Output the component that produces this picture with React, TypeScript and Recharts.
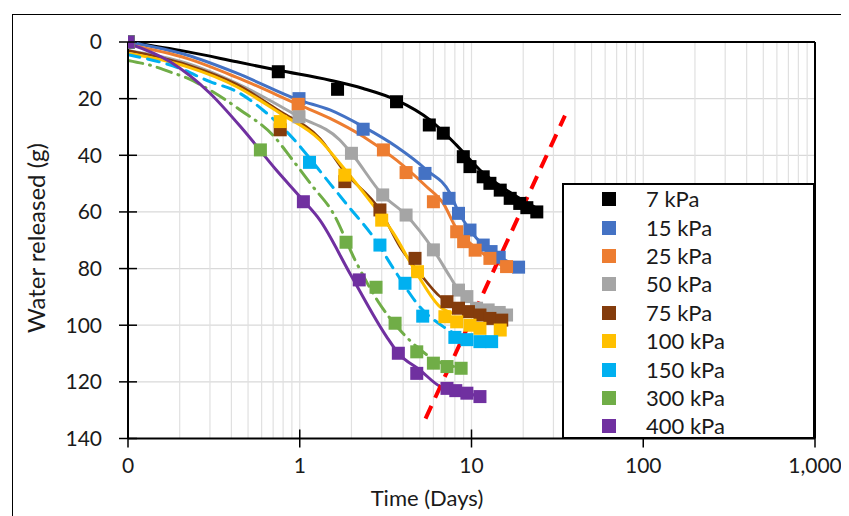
import { ComposedChart, Line, Scatter, XAxis, YAxis, CartesianGrid, ReferenceLine, Legend } from 'recharts';

// measured points (time in days, water released in g)
const t7 = [0.1, 0.75, 1.66, 3.66, 5.68, 6.85, 8.96, 9.8, 11.7, 12.8, 14.7, 16.8, 19.1, 21, 24];
const w7 = [0, 10.5, 16.7, 21.1, 29.3, 32.2, 40.5, 44, 47.6, 49.9, 52.3, 55.2, 57, 58.5, 60];
const t15 = [0.1, 0.99, 2.34, 5.36, 7.4, 8.4, 9.8, 11.7, 13.0, 14.5, 18.8];
const w15 = [0, 20, 30.8, 46.4, 55.2, 60.5, 66.4, 71.7, 74, 76, 79.5];
const t25 = [0.1, 0.98, 3.07, 4.16, 6.0, 8.2, 9.0, 10.5, 12.8, 16];
const w25 = [0, 22, 38.1, 46.1, 56.4, 67, 70.5, 73.5, 76.4, 79.3];
const t50 = [0.1, 0.99, 2.0, 3.04, 4.16, 6.0, 8.4, 9.4, 10.7, 12.5, 14.5, 16];
const w50 = [0, 26.4, 39.3, 54, 61.1, 73.4, 87.6, 89.9, 94, 94.6, 95.5, 96.4];
const t75 = [0.1, 0.77, 1.83, 2.93, 4.69, 7.2, 8.4, 9.6, 11.2, 12.8, 15];
const w75 = [0, 31, 49.3, 59.3, 76.4, 91.7, 94, 95.2, 96.4, 97.6, 98.2];
const t100 = [0.1, 0.77, 1.83, 3.0, 4.85, 7.0, 8.2, 9.8, 11.2, 14.7];
const w100 = [0, 28.1, 47, 62.9, 81.1, 97, 98.8, 100, 101.1, 101.7];
const t150 = [0.1, 1.14, 2.93, 4.1, 5.2, 8.0, 9.4, 11.2, 13.1];
const w150 = [0, 42.5, 71.7, 85.2, 96.8, 104.3, 105.1, 105.8, 105.8];
const t300 = [0.1, 0.59, 1.86, 2.78, 3.59, 4.8, 6.0, 7.2, 8.7];
const w300 = [0, 38.1, 70.7, 86.6, 99.3, 109.4, 113.4, 114.6, 115.2];
const t400 = [0.1, 1.05, 2.22, 3.75, 4.8, 7.2, 8.1, 9.4, 11.2];
const w400 = [0, 56.4, 84, 109.9, 117, 122.3, 123.1, 124, 125.2];

// fitted curves
const ft7 = [0.1, 0.22, 0.43, 0.75, 1.5, 2.34, 3.66, 5.73, 8.18, 11.2, 16, 24];
const fw7 = [0, 3.4, 7, 10, 13.5, 16.4, 20.5, 27.5, 36.4, 45.2, 52.3, 58.7];
const ft15 = [0.1, 0.22, 0.43, 0.99, 1.5, 2.34, 3.66, 5.48, 7.5, 8.4, 9.8, 11.7, 14.5, 18.8];
const fw15 = [0, 4.6, 11, 20.5, 24, 29.9, 37, 45.2, 53.4, 60, 66.4, 71.7, 75.8, 79.5];
const ft25 = [0.1, 0.22, 0.43, 0.99, 1.5, 2.34, 3.66, 5.48, 6.85, 8.2, 9.8, 12.8, 17];
const fw25 = [1, 5.8, 12.5, 22.2, 27, 33.4, 41.7, 51.1, 57, 66, 71, 76.4, 80.5];
const ft50 = [0.1, 0.22, 0.43, 0.99, 1.71, 2.0, 3.04, 4.16, 6.0, 7.5, 8.4, 9.4, 10.7, 12.5, 16];
const fw50 = [3, 7.5, 14.6, 26.4, 34.6, 39.3, 54, 61.1, 73.4, 82.9, 87.6, 89.9, 94, 94.6, 96.4];
const ft75 = [0.1, 0.22, 0.43, 0.77, 1.31, 1.83, 2.93, 3.83, 5.0, 6.56, 9, 11.2, 16];
const fw75 = [3, 8, 15, 24.5, 34, 46, 59.3, 72.3, 81.7, 89.9, 94, 95.8, 97.6];
const ft100 = [0.1, 0.22, 0.43, 0.77, 1.31, 1.71, 2.45, 3.51, 4.8, 6.56, 7.8];
const fw100 = [4, 8.7, 15.8, 25.2, 34.6, 42.8, 54.6, 67.5, 81.7, 93.5, 95.8];
const ft150 = [0.1, 0.2, 0.3, 0.43, 0.61, 0.84, 1.5, 1.93, 2.68, 3.6, 5.0, 6.85, 8];
const fw150 = [4.5, 9.3, 14, 17.5, 24, 31.7, 50, 58.2, 68.8, 81, 93.5, 100.5, 103];
const ft300 = [0.1, 0.14, 0.18, 0.22, 0.3, 0.45, 0.7, 0.91, 1.19, 1.55, 2.1, 2.87, 3.83, 4.8, 6, 8.7];
const fw300 = [6.5, 8.5, 10.8, 12.7, 17, 24, 33, 41.7, 51, 60, 77, 91.8, 101.7, 107.6, 112, 115];
const ft400 = [0.1, 0.176, 0.3, 0.47, 0.73, 1.05, 1.31, 1.96, 3.2, 3.75, 5.0, 6.6, 8.1, 9.4, 11.2];
const fw400 = [0.5, 7, 18.1, 31.1, 45.2, 56, 62.9, 81.7, 104, 109.9, 115.8, 121.7, 123.1, 124, 125.2];

const redT = [5.4, 35];
const redW = [133, 26];

const xTicks = [0.1, 1, 10, 100, 1000];
const yTicks = [0, 20, 40, 60, 80, 100, 120, 140];
const minorX = [0.2, 0.3, 0.4, 0.5, 0.6, 0.7, 0.8, 0.9, 1, 2, 3, 4, 5, 6, 7, 8, 9, 10, 20, 30, 40, 50, 60, 70, 80, 90, 100, 200, 300, 400, 500, 600, 700, 800, 900];

const rows = (t: number[], w: number[]) => t.map((v, i) => ({ t: v, w: w[i] }));

const series = [
  { name: '7 kPa', color: '#000000', t: t7, w: w7, ft: ft7, fw: fw7, dash: undefined, width: 3 },
  { name: '15 kPa', color: '#4472C4', t: t15, w: w15, ft: ft15, fw: fw15, dash: undefined, width: 3 },
  { name: '25 kPa', color: '#ED7D31', t: t25, w: w25, ft: ft25, fw: fw25, dash: undefined, width: 3 },
  { name: '50 kPa', color: '#A5A5A5', t: t50, w: w50, ft: ft50, fw: fw50, dash: undefined, width: 3 },
  { name: '75 kPa', color: '#843C0C', t: t75, w: w75, ft: ft75, fw: fw75, dash: undefined, width: 2.5 },
  { name: '100 kPa', color: '#FFC000', t: t100, w: w100, ft: ft100, fw: fw100, dash: undefined, width: 3 },
  { name: '150 kPa', color: '#00B0F0', t: t150, w: w150, ft: ft150, fw: fw150, dash: '12 8', width: 3 },
  { name: '300 kPa', color: '#70AD47', t: t300, w: w300, ft: ft300, fw: fw300, dash: '15 7 1 7', width: 3 },
  { name: '400 kPa', color: '#7030A0', t: t400, w: w400, ft: ft400, fw: fw400, dash: undefined, width: 3 },
];

const FONT = 'Lato, sans-serif';
const TICK_SIZE = 9;
const Y_MARGIN = 17;
const X_MARGIN = 11;

const YTick = (props: any) => {
  const { x, y, payload } = props;
  const ax = x + TICK_SIZE + Y_MARGIN;
  return (
    <g>
      <line x1={ax - TICK_SIZE} x2={ax + TICK_SIZE} y1={y} y2={y} stroke="#000" strokeWidth={1.5} />
      <text x={x} y={y} dy="0.35em" textAnchor="end" fill="#1a1a1a" fontSize={21} fontFamily={FONT}>
        {payload.value}
      </text>
    </g>
  );
};

const XTick = (props: any) => {
  const { x, y, payload } = props;
  const ay = y - TICK_SIZE - X_MARGIN;
  const label = payload.value < 1 ? '0' : payload.value.toLocaleString('en-US');
  return (
    <g>
      <line x1={x} x2={x} y1={ay - TICK_SIZE} y2={ay + TICK_SIZE} stroke="#000" strokeWidth={1.5} />
      <text x={x} y={y} dy="0.71em" textAnchor="middle" fill="#1a1a1a" fontSize={21} fontFamily={FONT}>
        {label}
      </text>
    </g>
  );
};

const LegendBox = () => (
  <div
    style={{
      width: 253,
      height: 256,
      boxSizing: 'border-box',
      border: '2px solid #000',
      background: '#fff',
      fontFamily: FONT,
      fontSize: 22,
      color: '#1a1a1a',
    }}
  >
    {series.map((s) => (
      <div key={s.name} style={{ height: 28.4, display: 'flex', alignItems: 'center' }}>
        <span style={{ display: 'inline-block', width: 14, height: 14, background: s.color, marginLeft: 38 }} />
        <span style={{ marginLeft: 30, lineHeight: 1 }}>{s.name}</span>
      </div>
    ))}
  </div>
);

const Square = (color: string) => (props: any) => {
  const { cx, cy } = props;
  return <rect x={cx - 6.5} y={cy - 6.5} width={13} height={13} fill={color} />;
};

export default function App() {
  return (
    <div style={{ position: 'relative', width: 841, height: 508, overflow: 'hidden', fontFamily: FONT }}>
      <div
        style={{
          position: 'absolute',
          left: 4,
          top: 6,
          width: 1000,
          height: 1000,
          borderLeft: '1px solid #000',
          borderTop: '1px solid #000',
        }}
      />
      <ComposedChart width={841} height={508} margin={{ top: 34, right: 34, left: 0, bottom: 37.5 }}>
        <CartesianGrid vertical={false} stroke="#d9d9d9" strokeWidth={1.2} />
        {minorX.map((v) => (
          <ReferenceLine key={v} x={v} stroke="#e0e0e0" strokeWidth={1.2} />
        ))}
        <XAxis
          dataKey="t"
          type="number"
          scale="log"
          domain={[0.1, 1000]}
          allowDataOverflow
          ticks={xTicks}
          height={40}
          tickSize={TICK_SIZE}
          tickMargin={X_MARGIN}
          tickLine={false}
          axisLine={{ stroke: '#000', strokeWidth: 2 }}
          tick={<XTick />}
          interval={0}
        />
        <YAxis
          dataKey="w"
          type="number"
          domain={[0, 140]}
          reversed
          ticks={yTicks}
          width={120}
          tickSize={TICK_SIZE}
          tickMargin={Y_MARGIN}
          tickLine={false}
          axisLine={{ stroke: '#000', strokeWidth: 2 }}
          tick={<YTick />}
          interval={0}
        />
        <ReferenceLine y={0} stroke="#000" strokeWidth={2} />
        <ReferenceLine x={1000} stroke="#000" strokeWidth={2} />
        {series.map((s) => (
          <Scatter
            key={s.name + '-pts'}
            name={s.name}
            data={rows(s.t, s.w)}
            fill={s.color}
            shape={Square(s.color)}
            isAnimationActive={false}
            legendType="none"
          />
        ))}
        {series.map((s) => (
          <Line
            key={s.name + '-fit'}
            data={rows(s.ft, s.fw)}
            dataKey="w"
            type="monotone"
            stroke={s.color}
            strokeWidth={s.width}
            strokeDasharray={s.dash}
            strokeLinecap={s.dash ? 'round' : 'butt'}
            dot={false}
            activeDot={false}
            isAnimationActive={false}
            legendType="none"
          />
        ))}
        <Line
          data={rows(redT, redW)}
          dataKey="w"
          type="linear"
          stroke="#FF0000"
          strokeWidth={4}
          strokeDasharray="14 9"
          dot={false}
          activeDot={false}
          isAnimationActive={false}
          legendType="none"
        />
        <Legend
          layout="vertical"
          align="center"
          verticalAlign="middle"
          wrapperStyle={{ left: 554, top: 175, width: 253, height: 256 }}
          content={() => <LegendBox />}
        />
      </ComposedChart>
      <div
        style={{
          position: 'absolute',
          left: 27,
          top: 230,
          transform: 'translate(-50%, -50%) rotate(-90deg)',
          whiteSpace: 'nowrap',
          fontSize: 24,
          color: '#1a1a1a',
        }}
      >
        Water released (g)
      </div>
      <div
        style={{
          position: 'absolute',
          left: 419,
          top: 489,
          transform: 'translate(-50%, -50%)',
          whiteSpace: 'nowrap',
          fontSize: 22,
          color: '#1a1a1a',
        }}
      >
        Time (Days)
      </div>
    </div>
  );
}
